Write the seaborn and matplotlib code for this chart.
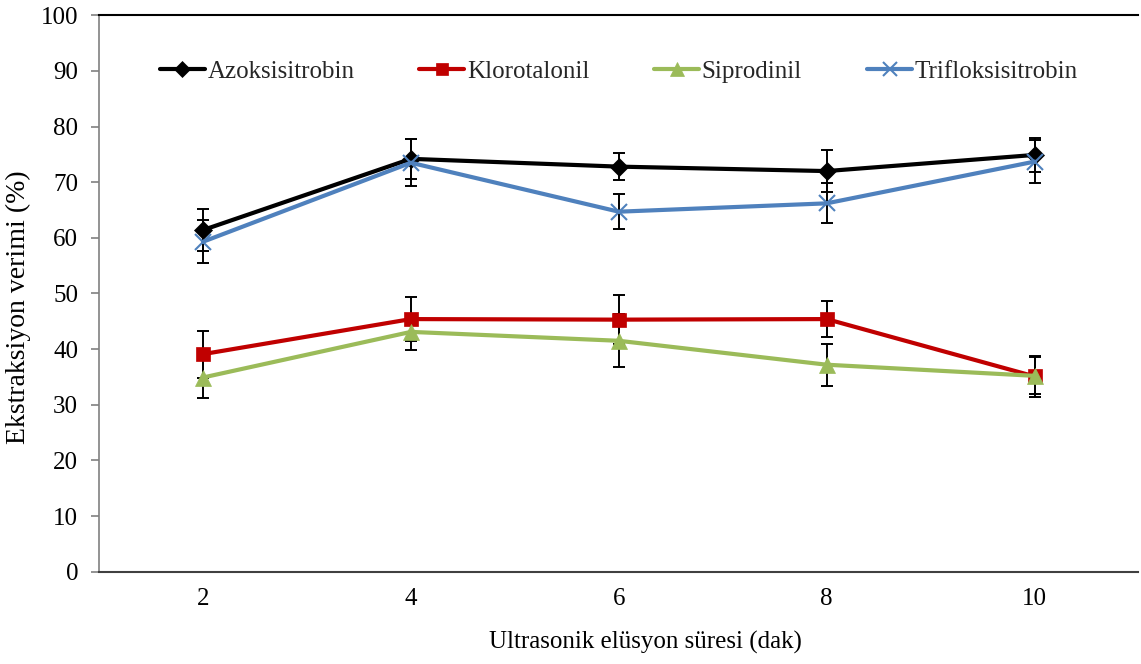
import matplotlib
matplotlib.use("Agg")
import matplotlib.pyplot as plt
import seaborn as sns
import pandas as pd

sns.set_theme(style="white")
plt.rcParams['font.family'] = ['Liberation Serif', 'DejaVu Serif']

sure = [2, 4, 6, 8, 10]
azoksisitrobin = [61.4, 74.2, 72.8, 72.0, 74.9]
azoksisitrobin_sd = [3.8, 3.6, 2.4, 3.8, 3.0]
klorotalonil = [39.1, 45.4, 45.3, 45.4, 35.1]
klorotalonil_sd = [4.2, 4.0, 4.4, 3.3, 3.7]
siprodinil = [34.9, 43.1, 41.5, 37.2, 35.2]
siprodinil_sd = [3.7, 3.2, 4.8, 3.8, 3.3]
trifloksisitrobin = [59.3, 73.5, 64.7, 66.2, 73.7]
trifloksisitrobin_sd = [3.9, 4.2, 3.2, 3.6, 3.9]

series = {
    "Azoksisitrobin": (azoksisitrobin, azoksisitrobin_sd),
    "Klorotalonil": (klorotalonil, klorotalonil_sd),
    "Siprodinil": (siprodinil, siprodinil_sd),
    "Trifloksisitrobin": (trifloksisitrobin, trifloksisitrobin_sd),
}
colors = {
    "Azoksisitrobin": "#000000",
    "Klorotalonil": "#C00000",
    "Siprodinil": "#9BBB59",
    "Trifloksisitrobin": "#4F81BD",
}
markers = {
    "Azoksisitrobin": "D",
    "Klorotalonil": "s",
    "Siprodinil": "^",
    "Trifloksisitrobin": "x",
}
sizes = {"Azoksisitrobin": 9, "Klorotalonil": 10.5, "Siprodinil": 11.5, "Trifloksisitrobin": 12}

rows = []
for name, (vals, sds) in series.items():
    for x, v, s in zip(sure, vals, sds):
        rows.append({"sure": x, "verim": v, "sd": s, "madde": name})
df = pd.DataFrame(rows)

fig = plt.figure(figsize=(11.41, 6.64), dpi=100)
ax = fig.add_axes([0.0868, 0.139, 0.911, 0.838])

# error bars first so the lines and markers sit on top
for name in series:
    d = df[df["madde"] == name]
    ax.errorbar(d["sure"], d["verim"], yerr=d["sd"], fmt="none",
                ecolor="black", elinewidth=1.4, capsize=4.5, capthick=1.4, zorder=2)

for name in series:
    d = df[df["madde"] == name]
    mew = 1.5 if markers[name] == "x" else 0.5
    sns.lineplot(data=d, x="sure", y="verim", ax=ax, color=colors[name],
                 marker=markers[name], markersize=sizes[name],
                 markeredgecolor=colors[name], markeredgewidth=mew,
                 linewidth=3, label=name, zorder=3)

ax.set_xlim(1, 11)
ax.set_ylim(0, 100)
ax.set_xticks(sure)
ax.set_yticks(range(0, 101, 10))
ax.tick_params(axis="y", which="both", left=True, length=6, width=1.2,
               color="#808080", labelsize=18, pad=9, direction="out")
ax.tick_params(axis="x", bottom=False, labelsize=18, pad=6)
for lbl in ax.get_xticklabels() + ax.get_yticklabels():
    lbl.set_color("black")

ax.spines["left"].set_color("#808080")
ax.spines["left"].set_linewidth(1.2)
ax.spines["bottom"].set_color("#404040")
ax.spines["bottom"].set_linewidth(1.5)
ax.spines["top"].set_color("black")
ax.spines["top"].set_linewidth(1.5)
ax.spines["right"].set_visible(False)

ax.set_xlabel("Ultrasonik elüsyon süresi (dak)", fontsize=18, color="black", va="center")
ax.xaxis.set_label_coords(0.526, -0.1275)
ax.set_ylabel("Ekstraksiyon verimi (%)", fontsize=20, color="black", va="center")
ax.yaxis.set_label_coords(-0.078, 0.476)
ax.grid(False)

leg = ax.legend(loc="upper center", bbox_to_anchor=(0.5, 0.96), ncol=4, frameon=False,
                fontsize=18, handlelength=1.8, handletextpad=0.1, columnspacing=2.6,
                markerscale=0.85)

fig.savefig("out.png", dpi=100, facecolor="white")
